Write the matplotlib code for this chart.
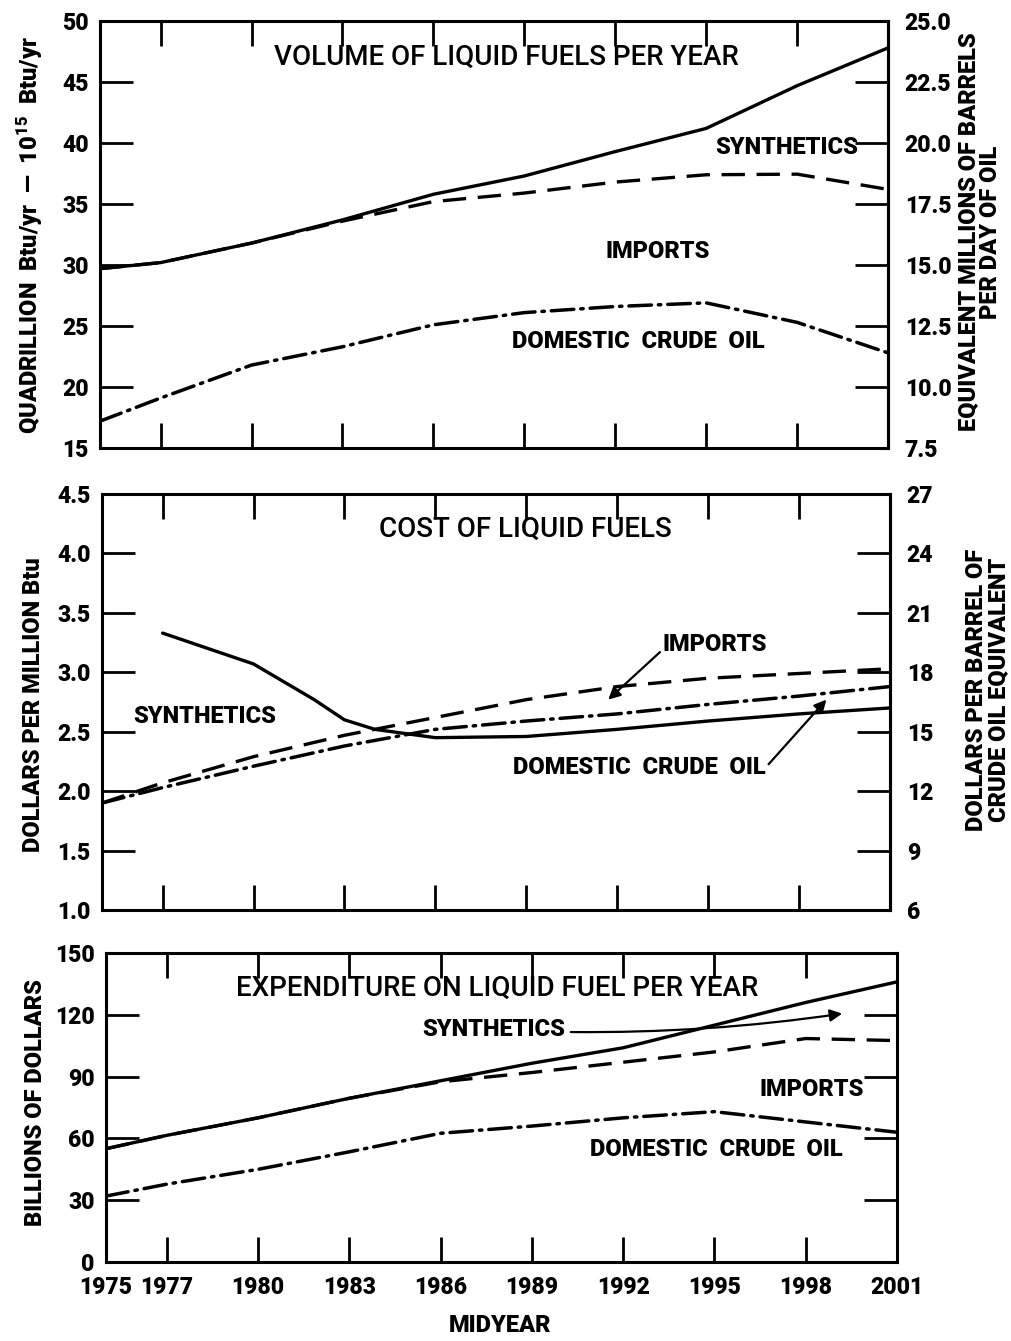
import matplotlib
matplotlib.use("Agg")
import matplotlib.pyplot as plt

plt.rcParams['mathtext.fontset'] = 'custom'
plt.rcParams['mathtext.rm'] = 'Roboto:black'
plt.rcParams['mathtext.it'] = 'Roboto:black'

NARROW = ['Roboto', 'DejaVu Sans']
TITLE = ['Roboto', 'DejaVu Sans']
HEAVY = 'black'

## data
years = [1975, 1977, 1980, 1983, 1986, 1989, 1992, 1995, 1998, 2001]
tick_years = [1975, 1977, 1980, 1983, 1986, 1989, 1992, 1995, 1998, 2001]

# volume, quadrillion Btu/yr (cumulative curves)
vol_total = [29.7, 30.2, 31.8, 33.7, 35.8, 37.3, 39.3, 41.2, 44.7, 47.8]
vol_imports_dom = [29.7, 30.2, 31.8, 33.6, 35.2, 35.9, 36.8, 37.4, 37.45, 36.2]
vol_domestic = [17.2, 19.1, 21.8, 23.3, 25.1, 26.1, 26.6, 26.9, 25.3, 22.8]

# cost, dollars per million Btu
syn_years = [1977, 1980, 1982, 1983, 1984, 1986, 1989, 1992, 1995, 1998, 2001]
cost_synthetics = [3.33, 3.07, 2.77, 2.60, 2.52, 2.45, 2.46, 2.52, 2.59, 2.65, 2.70]
cost_imports = [1.90, 2.07, 2.29, 2.47, 2.62, 2.77, 2.88, 2.95, 2.99, 3.03]
cost_domestic = [1.90, 2.03, 2.21, 2.38, 2.52, 2.59, 2.65, 2.73, 2.80, 2.88]

# expenditure, billions of dollars (cumulative curves)
exp_total = [55, 61.5, 70, 79.5, 88, 96.5, 104, 115, 126, 136]
exp_imports_dom = [55, 61.5, 70, 79.5, 87.5, 92, 97, 102, 108.5, 107.5]
exp_domestic = [32, 37.8, 45, 53.5, 62.5, 66, 70, 73, 68, 63]

SOLID = dict(color='black', lw=2.4, solid_capstyle='round')
DASH = dict(color='black', lw=2.4, ls=(0, (7, 3.5)))
DASHDOT = dict(color='black', lw=2.5, ls=(0, (6.5, 2.0, 0.7, 2.0)), dash_capstyle='round')


def heavy(labels):
    for lab in labels:
        lab.set_family(NARROW)
        lab.set_weight(HEAVY)


def setup(ax, ylim, yticks, right=None, xlabels=False):
    ax.set_xlim(1975, 2001)
    ax.set_ylim(*ylim)
    ax.set_yticks(yticks)
    ax.set_xticks(tick_years)
    for s in ax.spines.values():
        s.set_linewidth(2.2)
    ax.tick_params(axis='both', direction='in', length=18, width=2,
                   top=True, right=right is None, labelsize=16.5)
    ax.tick_params(axis='y', length=24, pad=8)
    if xlabels:
        ax.set_xticklabels([str(y) for y in tick_years])
        ax.tick_params(axis='x', pad=10)
    else:
        ax.set_xticklabels([])
    heavy(ax.get_xticklabels() + ax.get_yticklabels())
    if right is not None:
        ax2 = ax.twinx()
        ax2.set_ylim(*right[0])
        ax2.set_yticks(right[1])
        ax2.set_yticklabels(right[2])
        ax2.tick_params(axis='y', direction='in', length=24, width=2, pad=12, labelsize=16.5)
        heavy(ax2.get_yticklabels())
        ax2.spines['right'].set_linewidth(2.2)
        return ax2
    return None


def label(ax, x, y, s, ha='center', size=17):
    ax.text(x, y, s, ha=ha, va='center', family=NARROW, weight=HEAVY, fontsize=size)


def title(ax, x, y, s):
    ax.text(x, y, s, ha='center', va='center', family=TITLE, weight='medium', fontsize=20)


ARROW = dict(arrowstyle='-|>', color='black', lw=1.6, shrinkA=0, shrinkB=0, mutation_scale=18)

fig = plt.figure(figsize=(10.12, 13.41), dpi=100)

## top: volume
ax1 = fig.add_axes([0.0988, 0.6659, 0.7787, 0.3184])
ax1.plot(years, vol_total, **SOLID)
ax1.plot(years, vol_imports_dom, **DASH)
ax1.plot(years, vol_domestic, **DASHDOT)
setup(ax1, (15, 50), [15, 20, 25, 30, 35, 40, 45, 50],
      right=((7.5, 25), [7.5, 10, 12.5, 15, 17.5, 20, 22.5, 25],
             ['7.5', '10.0', '12.5', '15.0', '17.5', '20.0', '22.5', '25.0']))
title(ax1, 1988.4, 47.05, 'VOLUME OF LIQUID FUELS PER YEAR')
label(ax1, 2000.0, 39.6, 'SYNTHETICS', ha='right')
label(ax1, 1993.4, 31.15, 'IMPORTS')
label(ax1, 1992.75, 23.7, 'DOMESTIC  CRUDE  OIL')

## middle: cost
ax2 = fig.add_axes([0.1008, 0.3214, 0.7787, 0.3102])
ax2.plot(syn_years, cost_synthetics, **SOLID)
ax2.plot(years, cost_imports, **DASH)
ax2.plot(years, cost_domestic, **DASHDOT)
setup(ax2, (1.0, 4.5), [1.0, 1.5, 2.0, 2.5, 3.0, 3.5, 4.0, 4.5],
      right=((6, 27), [6, 9, 12, 15, 18, 21, 24, 27],
             ['6', '9', '12', '15', '18', '21', '24', '27']))
ax2.set_yticklabels(['1.0', '1.5', '2.0', '2.5', '3.0', '3.5', '4.0', '4.5'])
heavy(ax2.get_yticklabels())
title(ax2, 1988.96, 4.20, 'COST OF LIQUID FUELS')
label(ax2, 1978.4, 2.63, 'SYNTHETICS')
ax2.annotate('IMPORTS', xy=(1991.7, 2.77), xytext=(1993.5, 3.23), ha='left', va='center',
             family=NARROW, weight=HEAVY, fontsize=17,
             arrowprops=dict(ARROW, relpos=(0, 0.3)))
ax2.annotate('DOMESTIC  CRUDE  OIL', xy=(1998.9, 2.77), xytext=(1996.9, 2.20), ha='right',
             va='center', family=NARROW, weight=HEAVY, fontsize=17,
             arrowprops=dict(ARROW, relpos=(1, 0.5)))

## bottom: expenditure
ax3 = fig.add_axes([0.1047, 0.0589, 0.7816, 0.2304])
ax3.plot(years, exp_total, **SOLID)
ax3.plot(years, exp_imports_dom, **DASH)
ax3.plot(years, exp_domestic, **DASHDOT)
setup(ax3, (0, 150), [0, 30, 60, 90, 120, 150], xlabels=True)
title(ax3, 1987.85, 132.8, 'EXPENDITURE ON LIQUID FUEL PER YEAR')
ax3.annotate('SYNTHETICS', xy=(1999.2, 120.6), xytext=(1985.4, 112.8), ha='left', va='center',
             family=NARROW, weight=HEAVY, fontsize=17,
             arrowprops=dict(ARROW, relpos=(1, 0.4), shrinkA=2,
                             connectionstyle='arc3,rad=0.04'))
label(ax3, 1998.2, 83.7, 'IMPORTS')
label(ax3, 1995.05, 54.5, 'DOMESTIC  CRUDE  OIL')

## axis titles
fig.text(0.03, 1 - 235 / 1341, 'QUADRILLION  Btu/yr  —  $10^{15}$  Btu/yr', rotation=90,
         ha='center', va='center', family=NARROW, weight=HEAVY, fontsize=17)
fig.text(0.968, 1 - 232 / 1341, 'EQUIVALENT MILLIONS OF BARRELS\nPER DAY OF OIL', rotation=90,
         ha='center', va='center', family=NARROW, weight=HEAVY, fontsize=17,
         linespacing=0.95, multialignment='center')
fig.text(0.033, 1 - 705 / 1341, 'DOLLARS PER MILLION Btu', rotation=90,
         ha='center', va='center', family=NARROW, weight=HEAVY, fontsize=17)
fig.text(0.976, 1 - 690 / 1341, 'DOLLARS PER BARREL OF\nCRUDE OIL EQUIVALENT', rotation=90,
         ha='center', va='center', family=NARROW, weight=HEAVY, fontsize=17,
         linespacing=0.95, multialignment='center')
fig.text(0.035, 1 - 1103 / 1341, 'BILLIONS OF DOLLARS', rotation=90,
         ha='center', va='center', family=NARROW, weight=HEAVY, fontsize=17)
fig.text(500 / 1012, 1 - 1325 / 1341, 'MIDYEAR', ha='center', va='center',
         family=NARROW, weight=HEAVY, fontsize=17)

fig.savefig('out.png', dpi=100, facecolor='white')
